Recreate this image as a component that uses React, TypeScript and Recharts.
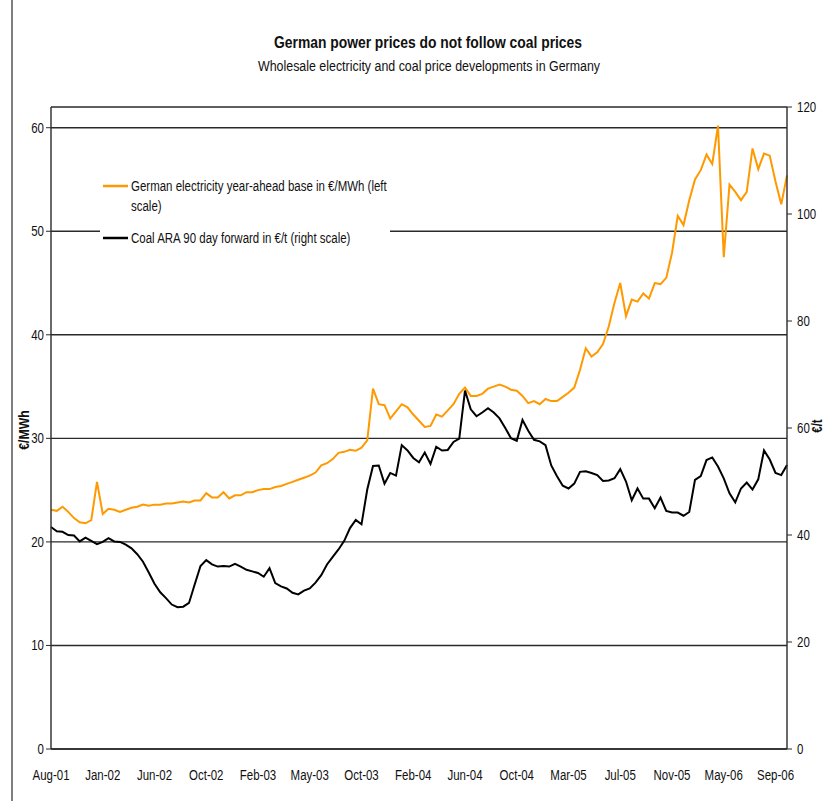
import React from "react";
import { LineChart, Line, XAxis, YAxis, CartesianGrid, Legend } from "recharts";

// x-axis labels, one every 9 points (roughly two-weekly points)
const months = [
  "Aug-01", "Jan-02", "Jun-02", "Oct-02", "Feb-03", "May-03", "Oct-03", "Feb-04",
  "Jun-04", "Oct-04", "Mar-05", "Jul-05", "Nov-05", "May-06", "Sep-06",
];
const step = 9;

const powerTicks = [0, 10, 20, 30, 40, 50, 60];
const coalTicks = [0, 20, 40, 60, 80, 100, 120];

const powerName = "German electricity year-ahead base in €/MWh (left scale)";
const coalName = "Coal ARA 90 day forward in €/t (right scale)";

// German electricity year-ahead base, €/MWh (left scale)
const power = [
  23.1, 23.0, 23.4, 22.9, 22.3, 21.9, 21.8, 22.1, 25.8, 22.7,
  23.2, 23.1, 22.9, 23.1, 23.3, 23.4, 23.6, 23.5, 23.6, 23.6,
  23.7, 23.7, 23.8, 23.9, 23.8, 24.0, 24.0, 24.7, 24.3, 24.3,
  24.8, 24.2, 24.5, 24.5, 24.8, 24.8, 25.0, 25.1, 25.1, 25.3,
  25.4, 25.6, 25.8, 26.0, 26.2, 26.4, 26.7, 27.4, 27.6, 28.0,
  28.6, 28.7, 28.9, 28.8, 29.1, 29.8, 34.8, 33.3, 33.2, 31.9,
  32.6, 33.3, 33.0, 32.3, 31.7, 31.1, 31.2, 32.3, 32.1, 32.7,
  33.3, 34.3, 34.9, 34.1, 34.1, 34.3, 34.8, 35.0, 35.2, 35.0,
  34.7, 34.6, 34.1, 33.4, 33.6, 33.3, 33.8, 33.6, 33.6, 34.0,
  34.4, 34.9, 36.6, 38.7, 37.9, 38.3, 39.1, 40.8, 43.1, 45.0,
  41.8, 43.4, 43.2, 44.0, 43.5, 45.0, 44.9, 45.5, 47.9, 51.5,
  50.6, 53.0, 55.0, 55.9, 57.4, 56.5, 60.2, 47.5, 54.5, 53.8,
  53.0, 53.8, 58.0, 56.0, 57.5, 57.3, 54.8, 52.6, 55.4,
];

// Coal ARA 90 day forward, €/t (right scale)
const coal = [
  41.5, 40.7, 40.6, 40.0, 39.9, 38.8, 39.5, 38.9, 38.3, 38.7,
  39.4, 38.8, 38.7, 38.2, 37.5, 36.4, 35.0, 33.0, 30.9, 29.3,
  28.2, 27.0, 26.5, 26.6, 27.3, 30.8, 34.2, 35.3, 34.5, 34.1,
  34.2, 34.1, 34.6, 34.1, 33.5, 33.2, 32.9, 32.2, 33.8, 31.0,
  30.4, 30.0, 29.2, 28.9, 29.6, 30.0, 31.1, 32.5, 34.5, 35.9,
  37.3, 38.9, 41.3, 42.8, 42.0, 48.5, 52.9, 53.0, 49.6, 51.6,
  51.1, 56.8, 55.8, 54.4, 53.6, 55.4, 53.3, 56.5, 55.8, 55.9,
  57.4, 58.0, 67.0, 63.5, 62.2, 62.9, 63.7, 62.9, 61.8, 60.0,
  58.1, 57.6, 61.5, 59.5, 57.8, 57.5, 56.8, 53.0, 51.0, 49.2,
  48.7, 49.6, 51.8, 51.9, 51.6, 51.2, 50.1, 50.2, 50.6, 52.3,
  50.0, 46.5, 48.7, 46.8, 46.8, 45.0, 47.0, 44.5, 44.2, 44.2,
  43.6, 44.3, 50.3, 51.0, 54.0, 54.5, 52.8, 50.6, 47.8, 46.1,
  48.7, 49.8, 48.5, 50.4, 55.8, 54.1, 51.6, 51.2, 53.1,
];

const data = power.map((p, i) => ({ idx: i, power: p, coal: coal[i] }));

const FONT = "'Liberation Sans', Arial, sans-serif";
const ORANGE = "#ff9900";
const INK = "#111";
const RULE = "#2a2a2a";

// Arial Narrow look: squeeze Liberation Sans horizontally
function Narrow({ x, y, anchor = "start", size = 14, weight = "normal", rotate = 0, children }: any) {
  return (
    <text
      transform={`translate(${x} ${y}) rotate(${rotate}) scale(0.82 1)`}
      textAnchor={anchor}
      fontSize={size}
      fontWeight={weight}
      fontFamily={FONT}
      fill={INK}
    >
      {children}
    </text>
  );
}

const LeftTick = (props: any) => (
  <Narrow x={props.x} y={props.y + 5} anchor="end" size={14}>{props.payload.value}</Narrow>
);

const RightTick = (props: any) => (
  <Narrow x={props.x} y={props.y + 5} anchor="start" size={14}>{props.payload.value}</Narrow>
);

const BottomTick = (props: any) => (
  <Narrow x={props.x} y={props.y + 31} anchor="middle" size={14}>
    {months[Math.round(props.payload.value / step)]}
  </Narrow>
);

function LegendBox() {
  return (
    <svg width={290} height={88} style={{ display: "block", background: "#fff" }}>
      <line x1={3} y1={21} x2={28} y2={21} stroke={ORANGE} strokeWidth={2.5} />
      <Narrow x={31} y={26}>German electricity year-ahead base in €/MWh (left</Narrow>
      <Narrow x={31} y={46}>scale)</Narrow>
      <line x1={3} y1={73} x2={28} y2={73} stroke="#000" strokeWidth={2.5} />
      <Narrow x={31} y={78}>Coal ARA 90 day forward in €/t (right scale)</Narrow>
    </svg>
  );
}

export default function App() {
  return (
    <div style={{ position: "absolute", left: 0, top: 0, width: 825, height: 801, background: "#fff", overflow: "hidden" }}>
      <LineChart
        width={825}
        height={801}
        data={data}
        margin={{ top: 107, right: 8, bottom: 22, left: 11 }}
      >
        <CartesianGrid yAxisId="left" vertical={false} stroke={RULE} strokeWidth={1.4} />
        <XAxis
          dataKey="idx"
          type="number"
          domain={[0, 128]}
          ticks={months.map((_, k) => k * step)}
          tickLine={false}
          tickSize={0}
          tickMargin={0}
          height={30}
          axisLine={{ stroke: RULE, strokeWidth: 1.4 }}
          tick={BottomTick}
        />
        <YAxis
          yAxisId="left"
          width={40}
          domain={[0, 62]}
          ticks={powerTicks}
          tickSize={5}
          tickMargin={2}
          axisLine={{ stroke: RULE, strokeWidth: 1.4 }}
          tickLine={{ stroke: RULE }}
          tick={LeftTick}
        />
        <YAxis
          yAxisId="right"
          orientation="right"
          width={30}
          domain={[0, 120]}
          ticks={coalTicks}
          tickSize={5}
          tickMargin={5}
          axisLine={{ stroke: RULE, strokeWidth: 1.4 }}
          tickLine={{ stroke: RULE }}
          tick={RightTick}
        />
        <Legend
          layout="vertical"
          align="center"
          verticalAlign="middle"
          content={() => <LegendBox />}
          wrapperStyle={{ left: 100, top: 165, width: 290, height: 88 }}
        />
        <Line
          yAxisId="left"
          type="linear"
          dataKey="power"
          name={powerName}
          stroke={ORANGE}
          strokeWidth={2}
          dot={false}
          activeDot={false}
          isAnimationActive={false}
        />
        <Line
          yAxisId="right"
          type="linear"
          dataKey="coal"
          name={coalName}
          stroke="#000"
          strokeWidth={2}
          dot={false}
          activeDot={false}
          isAnimationActive={false}
        />
      </LineChart>

      <svg width={825} height={801} style={{ position: "absolute", left: 0, top: 0, pointerEvents: "none" }}>
        <line x1={12} y1={0} x2={12} y2={801} stroke="#555" strokeWidth={1.5} />
        <text x={428} y={48} textAnchor="middle" fontSize={16} fontWeight="bold" fontFamily={FONT} fill={INK}
          textLength={308} lengthAdjust="spacingAndGlyphs">
          German power prices do not follow coal prices
        </text>
        <text x={429} y={71} textAnchor="middle" fontSize={14} fontFamily={FONT} fill={INK}
          textLength={342} lengthAdjust="spacingAndGlyphs">
          Wholesale electricity and coal price developments in Germany
        </text>
        <Narrow x={29} y={430} anchor="middle" size={15} weight="bold" rotate={-90}>€/MWh</Narrow>
        <Narrow x={822} y={426} anchor="middle" size={14} weight="bold" rotate={-90}>€/t</Narrow>
      </svg>
    </div>
  );
}
